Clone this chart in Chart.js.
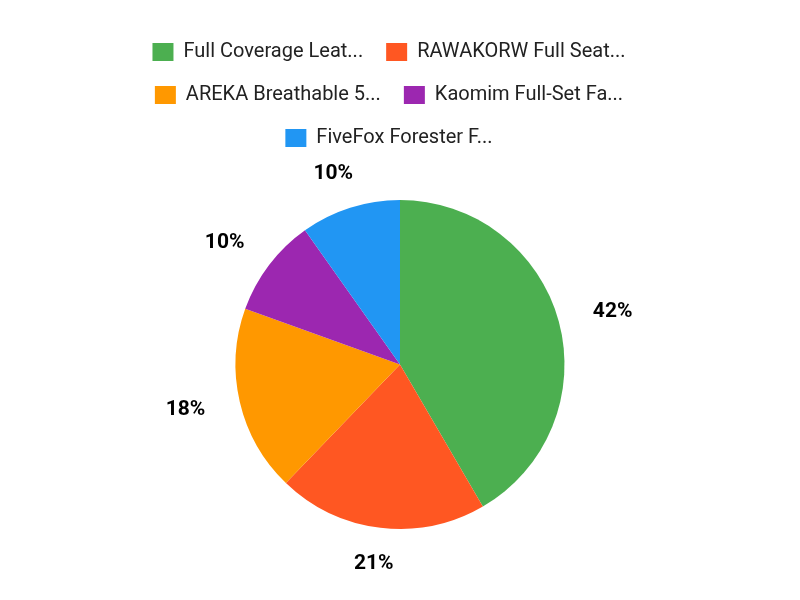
<!DOCTYPE html>
<html>
<head>
<meta charset="utf-8">
<script src="https://cdn.jsdelivr.net/npm/chart.js@4"></script>
<style>
  html, body { margin: 0; padding: 0; background: #fff; }
  #wrap { width: 800px; height: 600px; }
</style>
</head>
<body>
<div id="wrap"><canvas id="piechart"></canvas></div>
<script>
// data (share of total, in %)
const labels = [
  'Full Coverage Leat...',
  'RAWAKORW Full Seat...',
  'AREKA Breathable 5...',
  'Kaomim Full-Set Fa...',
  'FiveFox Forester F...'
];
const values = [41.6, 20.6, 18.3, 9.7, 9.8];
const colors = ['#4CAF50', '#FF5722', '#FF9800', '#9C27B0', '#2196F3'];

Chart.defaults.font.family = 'Roboto';

// percent labels outside the slices
const outLabels = {
  id: 'outLabels',
  afterDatasetsDraw(chart) {
    const ctx = chart.ctx;
    const meta = chart.getDatasetMeta(0);
    const total = values.reduce((a, b) => a + b, 0);
    ctx.save();
    ctx.font = 'bold 21px Roboto';
    ctx.fillStyle = '#000';
    ctx.textAlign = 'center';
    ctx.textBaseline = 'middle';
    meta.data.forEach((arc, i) => {
      const p = arc.getProps(['x', 'y', 'startAngle', 'endAngle', 'outerRadius'], true);
      const a = (p.startAngle + p.endAngle) / 2;
      const txt = Math.round(values[i] / total * 100) + '%';
      const w = ctx.measureText(txt).width;
      const r = p.outerRadius + 36;
      const x = p.x + Math.cos(a) * (r + w / 2);
      const y = p.y + Math.sin(a) * r;
      ctx.fillText(txt, x, y);
    });
    ctx.restore();
  }
};

// narrower rows (2 items a line) and a fixed legend height so the pie sits below it
const legendFit = {
  id: 'legendFit',
  beforeInit(chart) {
    const fit = chart.legend.fit;
    chart.legend.fit = function () {
      this.maxWidth = Math.min(this.maxWidth, 640);
      fit.call(this);
      this.height = 181;
    };
  },
  afterLayout(chart) {
    chart.legend.left -= 11;
    chart.legend.right -= 11;
  }
};

const data = {
  labels: labels,
  datasets: [{
    data: values,
    backgroundColor: colors,
    borderWidth: 0
  }]
};

const config = {
  type: 'pie',
  data,
  plugins: [outLabels, legendFit],
  options: {
    responsive: true,
    maintainAspectRatio: false,
    animation: false,
    layout: {
      padding: { top: 19, bottom: 71 }
    },
    plugins: {
      tooltip: { enabled: false },
      legend: {
        position: 'top',
        labels: {
          boxWidth: 21,
          boxHeight: 18,
          padding: 23,
          color: '#222',
          font: { size: 20 }
        }
      }
    }
  }
};

const pieChart = new Chart(document.getElementById('piechart'), config);
</script>
</body>
</html>
